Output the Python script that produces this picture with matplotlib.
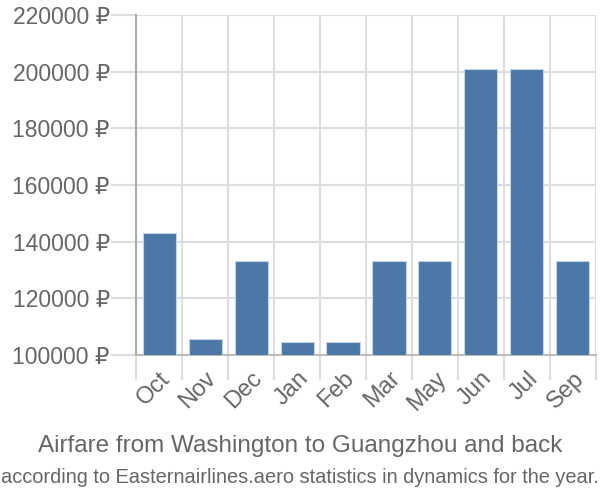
import matplotlib
matplotlib.use("Agg")
import matplotlib.pyplot as plt
import numpy as np

months = ['Oct', 'Nov', 'Dec', 'Jan', 'Feb', 'Mar', 'May', 'Jun', 'Jul', 'Sep']
prices = [142900, 105700, 133100, 104500, 104500, 133100, 133100, 200800, 200800, 133100]
yticks = [100000, 120000, 140000, 160000, 180000, 200000, 220000]

plt.rcParams['font.family'] = ['Liberation Sans', 'DejaVu Sans']
txt = '#666666'
grid = '#dddddd'

fig = plt.figure(figsize=(6, 5), dpi=100)
ax = fig.add_axes([0.227, 0.29, 0.766, 0.68])

x = np.arange(len(months))
ax.bar(x, prices, width=0.72, color='#4c78a8', edgecolor='#c4d3e4', linewidth=0.8, zorder=3)

ax.set_xlim(-0.5, len(months) - 0.5)
ax.set_ylim(100000, 220000)
ax.set_yticks(yticks)
ax.set_yticklabels([f'{v} ₽' for v in yticks], fontsize=16.5, color=txt)

# vertical grid on category boundaries
ax.set_xticks(np.arange(len(months) + 1) - 0.5, minor=False)
ax.set_xticklabels([])
ax.set_xticks(x, minor=True)
ax.set_xticklabels(months, minor=True, rotation=45, ha='right', va='top',
                   rotation_mode='anchor', fontsize=17, color=txt)
ax.tick_params(axis='x', which='major', length=18, color=grid, width=1.5)
ax.tick_params(axis='x', which='minor', length=0, pad=9)
ax.tick_params(axis='y', length=18, color=grid, width=1.5, pad=1)

ax.grid(True, which='major', color=grid, linewidth=1.5, zorder=0)
for s in ['top', 'right']:
    ax.spines[s].set_visible(False)
ax.spines['bottom'].set_color('#bbbbbb')
ax.spines['bottom'].set_linewidth(1.5)
ax.spines['left'].set_color('#aaaaaa')
ax.spines['left'].set_linewidth(1.5)

fig.text(0.5, 0.108, 'Airfare from Washington to Guangzhou and back', ha='center',
         va='center', fontsize=17.5, color=txt)
fig.text(0.5, 0.045, 'according to Easternairlines.aero statistics in dynamics for the year.',
         ha='center', va='center', fontsize=14.4, color=txt)

fig.savefig('out.png', dpi=100)
